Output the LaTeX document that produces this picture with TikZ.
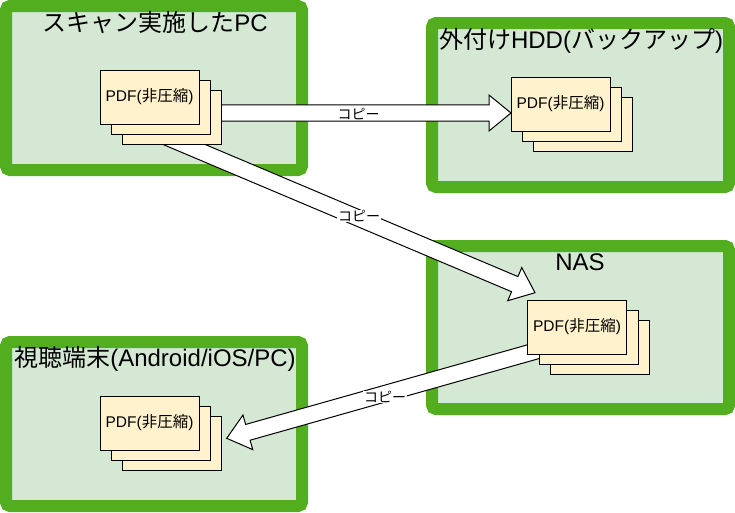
\documentclass[tikz,border=0pt]{standalone}
\usepackage{fontspec}
\setmainfont{Liberation Sans}
\newfontfamily\jp{Noto Sans CJK JP}
\usetikzlibrary{calc}
\definecolor{grn}{RGB}{82,174,30}
\definecolor{grnfill}{HTML}{D5E8D4}
\definecolor{pdffill}{HTML}{FFF2CC}
\tikzset{
  grpbox/.style={draw=grn, fill=grnfill, line width=12pt, rounded corners=4pt},
  grptitle/.style={font=\fontsize{24}{28}\selectfont, anchor=base, inner sep=0pt},
  pdfbox/.style={draw=black, fill=pdffill, line width=1pt, minimum width=99pt, minimum height=54pt, inner sep=0pt, font=\fontsize{15.5}{18}\selectfont},
  arrowsty/.style={draw=black, fill=white, line width=1pt, line join=miter},
  copylbl/.style={fill=white, inner sep=0.6pt, font=\fontsize{14}{16}\selectfont}
}
\newcommand\flexarr[3]{%
  \coordinate (#3H) at ($(#2)!22pt!(#1)$);
  \draw[arrowsty] ($(#1)!8.2pt!90:(#2)$) -- ($(#3H)!8.2pt!90:(#2)$) -- ($(#3H)!18pt!90:(#2)$) -- (#2)
     -- ($(#3H)!18pt!-90:(#2)$) -- ($(#3H)!8.2pt!-90:(#2)$) -- ($(#1)!8.2pt!-90:(#2)$) -- cycle;
}
\newcommand\pdfstack[3]{%
  \node[pdfbox] (#1c) at ($(#2,#3)+(22.5,20)$) {};
  \node[pdfbox] (#1b) at ($(#2,#3)+(11.5,10.5)$) {};
  \node[pdfbox] (#1a) at (#2,#3) {PDF({\jp 非圧縮})};
}
\begin{document}
\begin{tikzpicture}[x=1pt,y=-1pt]
\useasboundingbox (0,0) rectangle (735,512);
% group boxes
\draw[grpbox] (6,6) rectangle (302,170);
\draw[grpbox] (432,23) rectangle (729,187);
\draw[grpbox] (432,246) rectangle (729,409);
\draw[grpbox] (6,342) rectangle (302,506);
\node[grptitle] (t1) at (155,31.1) {{\jp スキャン実施した}PC};
\node[grptitle] (t2) at (581,48.1) {{\jp 外付け}HDD({\jp バックアップ})};
\node[grptitle] (t3) at (580,270.3) {NAS};
\node[grptitle] (t4) at (155,366.9) {{\jp 視聴端末}(Android/iOS/PC)};
% arrow end points
\coordinate (a1s) at (175,113);
\coordinate (a1e) at (511,113);
\coordinate (a2s) at (160,134.3);
\coordinate (a2e) at (535,292.7);
\coordinate (a3s) at (570,341.3);
\coordinate (a3e) at (226.7,438.3);
\flexarr{a1s}{a1e}{ar1}
\flexarr{a2s}{a2e}{ar2}
\flexarr{a3s}{a3e}{ar3}
% stacks
\pdfstack{s1}{149.5}{97}
\pdfstack{s2}{560.5}{104}
\pdfstack{s3}{577}{327}
\pdfstack{s4}{149.5}{423}
% labels
\node[copylbl] (l1) at (358.5,114) {\jp コピー};
\node[copylbl] (l2) at (359,216) {\jp コピー};
\node[copylbl] (l3) at (385,397) {\jp コピー};
\end{tikzpicture}
\end{document}
